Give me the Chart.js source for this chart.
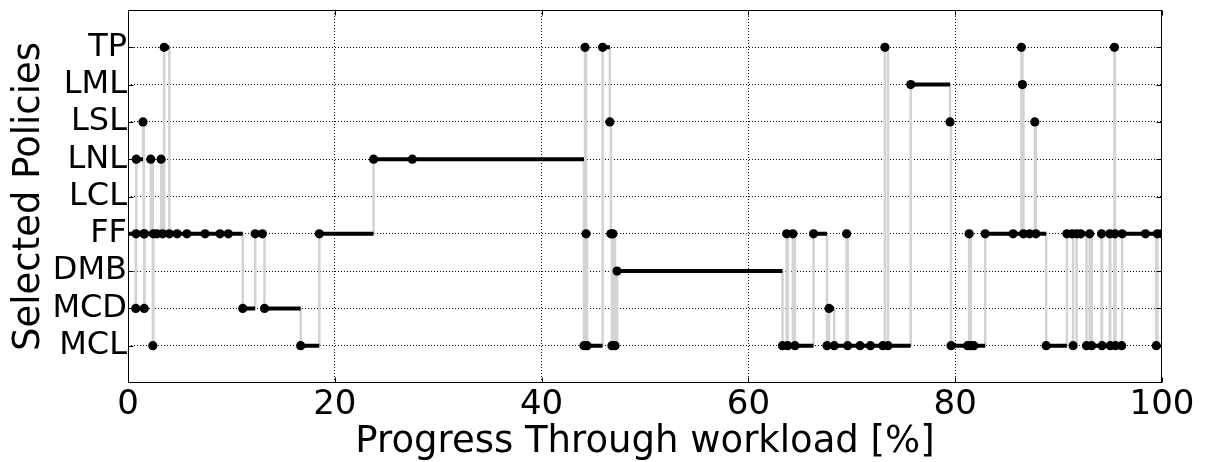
<!DOCTYPE html>
<html><head><meta charset="utf-8">
<script src="https://cdn.jsdelivr.net/npm/chart.js@4"></script>
<style>html,body{margin:0;padding:0;background:#fff;}#wrap{width:1210px;height:462px;position:relative;}</style>
</head><body><div id="wrap"><canvas id="c"></canvas></div>
<script>
const policies = ['MCL','MCD','DMB','FF','LCL','LNL','LSL','LML','TP'];
const xTicks = [0, 20, 40, 60, 80, 100];
const progress = [
  0.0, 0.75, 0.78, 0.8, 1.45, 1.52, 1.57, 1.6, 2.2, 2.4, 2.45, 2.8, 3.2, 3.35, 3.5, 4.0, 4.75, 5.7, 7.45, 8.9, 9.7,
  11.1, 12.3, 13.0, 13.2, 16.7, 18.5, 23.75, 27.5,
  44.1, 44.2, 44.3, 44.4, 45.9, 46.6, 46.7, 46.8, 46.9, 47.1, 47.3,
  63.3, 63.7, 63.8, 64.3, 64.5, 66.3, 67.6, 67.8, 68.3, 69.5, 69.6, 70.8, 71.8, 73.0, 73.2, 73.5,
  75.7, 79.5, 79.6, 81.2, 81.35, 81.5, 81.8, 82.9, 85.6, 86.4, 86.5, 86.6, 87.2, 87.7, 87.8,
  88.8, 90.8, 91.3, 91.4, 91.75, 92.15, 92.7, 93.0, 93.2, 94.15, 94.2, 94.95, 95.0, 95.4, 95.45, 95.5,
  96.1, 96.15, 98.4, 99.45, 99.55, 100.0
];
const selected = [
  'FF','MCD','FF','LNL','LSL','FF','MCD','FF','LNL','MCL','FF','FF','LNL','FF','TP','FF','FF','FF','FF','FF','FF',
  'MCD','FF','FF','MCD','MCL','FF','LNL','LNL',
  'MCL','TP','FF','MCL','TP','LSL','FF','MCL','FF','MCL','DMB',
  'MCL','FF','MCL','FF','MCL','FF','MCL','MCD','MCL','FF','MCL','MCL','MCL','MCL','TP','MCL',
  'LML','LSL','MCL','MCL','FF','MCL','MCL','FF','FF','TP','LML','FF','FF','LSL','FF',
  'MCL','FF','FF','MCL','FF','FF','MCL','FF','MCL','FF','MCL','FF','MCL','TP','FF','MCL',
  'MCL','FF','FF','MCL','FF','FF'
];

const FONT = 'DejaVu Sans';
const level = selected.map(p => policies.indexOf(p));
const dots = progress.map((x, i) => ({x: x, y: level[i]}));
const horiz = [];
const vert = [];
for (let i = 0; i < progress.length - 1; i++) {
  horiz.push({x: progress[i], y: level[i]}, {x: progress[i + 1], y: level[i]}, {x: progress[i + 1], y: null});
  if (level[i + 1] !== level[i]) {
    vert.push({x: progress[i + 1], y: level[i]}, {x: progress[i + 1], y: level[i + 1]}, {x: progress[i + 1], y: null});
  }
}

const framePlugin = {
  id: 'frame',
  afterDraw(chart) {
    const {ctx, chartArea: a, scales: {x, y}} = chart;
    ctx.save();
    ctx.strokeStyle = '#000';
    ctx.lineWidth = 1;
    const l = Math.round(a.left) + 0.5, r = Math.round(a.right) - 0.5;
    const t = Math.round(a.top) + 0.5, b = Math.round(a.bottom) - 0.5;
    ctx.strokeRect(l, t, r - l, b - t);
    const L = 5;
    ctx.beginPath();
    for (let v = 0; v < policies.length; v++) {
      const py = Math.round(y.getPixelForValue(v)) + 0.5;
      ctx.moveTo(l, py); ctx.lineTo(l + L, py);
      ctx.moveTo(r, py); ctx.lineTo(r - L, py);
    }
    for (const tv of xTicks) {
      const px = Math.round(x.getPixelForValue(tv)) + 0.5;
      ctx.moveTo(px, b); ctx.lineTo(px, b - L);
      ctx.moveTo(px, t); ctx.lineTo(px, t + L);
    }
    ctx.stroke();
    ctx.restore();
  }
};

new Chart(document.getElementById('c'), {
  type: 'scatter',
  data: {
    datasets: [
      {data: dots, showLine: false,
        pointRadius: c => (c.raw && c.raw.x <= 0) ? 0 : 4.6,
        pointHoverRadius: 4.6, pointBackgroundColor: '#000', pointBorderColor: '#000', pointBorderWidth: 0, order: 0, clip: 0},
      {data: horiz, showLine: true, spanGaps: false, borderColor: '#000', borderWidth: 4, pointRadius: 0, order: 1, clip: 0},
      {data: vert, showLine: true, spanGaps: false, borderColor: '#d3d3d3', borderWidth: 2.5, pointRadius: 0, order: 2, clip: 0}
    ]
  },
  options: {
    responsive: true,
    maintainAspectRatio: false,
    animation: false,
    devicePixelRatio: 1,
    layout: {padding: {left: 0, right: 48, top: 10, bottom: 0}},
    plugins: {legend: {display: false}, tooltip: {enabled: false}},
    events: [],
    scales: {
      x: {
        type: 'linear', min: 0, max: 100,
        ticks: {stepSize: 20, color: '#000', font: {family: FONT, size: 34}, padding: 2, maxRotation: 0},
        grid: {drawTicks: false, lineWidth: 1, color: c => (c.tick && (c.tick.value === 0 || c.tick.value === 100)) ? 'rgba(0,0,0,0)' : '#000'},
        border: {display: false, dash: [1, 2]},
        title: {display: true, text: 'Progress Through workload [%]', color: '#000', font: {family: FONT, size: 37}, padding: {top: 0, bottom: -3}},
        afterFit: s => { s.height = 79; s.paddingLeft = 0; s.paddingRight = 0; }
      },
      y: {
        type: 'linear', min: -1, max: 9,
        ticks: {stepSize: 1, autoSkip: false, color: '#000', font: {family: FONT, size: 32}, padding: 1,
          callback: v => (v >= 0 && v < policies.length) ? policies[v] : ''},
        grid: {drawTicks: false, lineWidth: 1, color: c => (c.tick && (c.tick.value < 0 || c.tick.value > 8)) ? 'rgba(0,0,0,0)' : '#000'},
        border: {display: false, dash: [1, 2]},
        title: {display: true, text: 'Selected Policies', color: '#000', font: {family: FONT, size: 37}, padding: {top: 7, bottom: 0}},
        afterFit: s => { s.width = 128; s.paddingTop = 0; s.paddingBottom = 0; }
      }
    }
  },
  plugins: [framePlugin]
});
</script>
</body></html>
